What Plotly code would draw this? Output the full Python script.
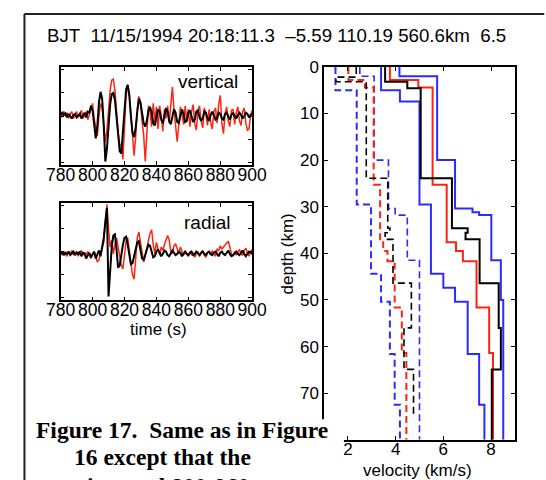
import plotly.graph_objects as go

# ---------------- data ----------------
time_s = list(range(780, 901))

vert_black = [0.05, 0.15, 0.05, 0.12, -0.05, 0.1, 0.0, -0.1, 0.05, 0.1,
              -0.05, 0.05, 0.1, -0.1, 0.0, 0.15, -0.05, 0.2, 0.15, 0.45,
              0.25, -0.5, -0.95, -0.4, 0.6, 1.05, 0.75, -0.4, -1.95, -1.4,
              -0.2, 0.5, 0.95, 1.0, 0.7, -0.1, -0.9, -1.5, -1.6, -0.7,
              0.4, 1.15, 1.35, 0.9, 0.0, -0.7, -0.9, -0.5, 0.2, 0.75,
              0.6, 0.1, -0.3, -0.45, -0.2, 0.25, 0.4, 0.15, -0.3, -0.4,
              -0.05, 0.3, 0.2, -0.15, -0.3, 0.05, 0.35, 0.2, -0.2, -0.35,
              0.0, 0.3, 0.15, -0.25, -0.3, 0.05, 0.3, 0.1, -0.25, -0.2,
              0.15, 0.25, 0.0, -0.25, -0.15, 0.2, 0.25, -0.05, -0.2, -0.1,
              0.2, 0.15, -0.1, -0.2, 0.05, 0.2, 0.05, -0.15, -0.1, 0.15,
              0.1, -0.1, -0.15, 0.1, 0.15, -0.05, -0.15, 0.05, 0.15, 0.0,
              -0.1, 0.05, 0.15, 0.05, -0.1, 0.0, 0.15, 0.1, -0.05, 0.05, 0.1]

vert_red = [0.1, -0.05, 0.2, 0.0, 0.15, -0.1, 0.1, 0.2, -0.1, 0.05,
            0.2, -0.05, 0.1, 0.25, -0.1, 0.05, 0.2, -0.15, 0.1, 0.3,
            0.55, -0.1, -0.55, -0.85, 0.0, 0.55, 0.35, -0.3, -1.1, -0.6,
            0.3, 1.1, 1.55, 1.6, 1.1, 0.1, -0.7, -1.2, -1.3, -1.85,
            -0.3, 0.9, 1.35, 1.0, 0.1, -1.0, -1.7, -0.9, 0.3, 0.85,
            0.55, -0.2, -0.8, -1.95, -0.7, 0.45, 0.2, -0.45, 0.55, -0.25,
            0.4, -0.55, 0.45, 0.05, -0.65, 0.3, -0.1, 0.45, -0.3, 0.5,
            1.25, 0.3, -0.55, -1.1, -0.35, 0.4, 0.1, -0.35, 0.45, -0.2,
            0.3, -0.45, 0.2, 0.5, -0.3, -0.6, 0.25, 0.45, -0.2, -0.5,
            0.35, 0.1, -0.4, 0.3, -0.25, -0.55, 0.2, 0.35, -0.3, 0.5,
            0.9, -0.3, -0.75, 0.1, 0.4, -0.2, -0.45, 0.25, 0.3, -0.35,
            0.15, 0.4, -0.2, -0.4, 0.2, 0.35, -0.3, -0.6, -0.55, 0.05, 0.25]

rad_black = [-0.1, 0.0, -0.15, -0.05, -0.1, 0.0, -0.15, -0.05, 0.0, -0.15,
             -0.05, -0.1, 0.0, -0.2, -0.05, -0.1, -0.3, -0.15, -0.05, -0.25,
             -0.1, 0.0, -0.3, -0.15, 0.05, -0.2, 0.2, 0.6, 1.3, 1.9,
             -1.95, -0.9, 0.2, 0.7, 0.75, 0.1, -0.7, -0.6, -0.1, 0.3,
             0.6, 0.65, 0.3, -0.2, -0.55, -0.5, -0.2, 0.15, 0.4, 0.45,
             0.1, -0.3, -0.35, -0.1, 0.1, 0.3, 0.25, -0.05, -0.25, -0.2,
             0.0, 0.1, -0.05, -0.2, -0.1, 0.05, 0.0, -0.15, -0.2, -0.05,
             0.05, -0.05, -0.15, -0.1, 0.0, -0.05, -0.2, -0.1, 0.0, -0.1,
             -0.15, -0.05, 0.0, -0.15, -0.1, 0.0, -0.1, -0.15, -0.05, 0.0,
             -0.1, -0.15, -0.05, 0.0, -0.1, -0.15, -0.05, 0.0, -0.1, -0.2,
             -0.05, 0.0, -0.1, -0.15, -0.05, 0.05, -0.1, -0.2, -0.15, -0.05,
             0.0, -0.1, -0.15, -0.05, 0.05, -0.1, -0.2, -0.1, 0.0, -0.05, -0.1]

rad_red = [-0.05, -0.15, 0.0, -0.1, -0.2, 0.0, -0.1, 0.05, -0.15, -0.05,
           0.0, -0.2, -0.05, 0.05, -0.15, -0.05, -0.1, 0.0, -0.15, -0.3,
           -0.1, 0.0, -0.2, -0.45, -0.35, -0.1, 0.1, 0.4, 1.3, 2.05,
           1.0, 0.2, 0.5, -0.1, 0.3, 0.6, 0.2, -0.3, -0.6, -0.75,
           -0.2, 0.45, 0.6, 0.1, -0.6, -1.0, -1.2, -0.4, 0.6, 0.85,
           0.4, -0.1, -0.45, -0.2, 0.2, 0.5, 0.8, 0.95, 0.3, -0.1,
           0.4, 0.15, -0.15, 0.2, 0.05, 0.3, 0.5, 0.7, 0.5, 0.0,
           -0.1, 0.25, 0.35, 0.1, -0.1, 0.2, 0.05, -0.15, 0.0, -0.1,
           -0.2, 0.0, -0.15, -0.05, -0.25, -0.1, 0.0, -0.2, -0.1, 0.05,
           -0.15, -0.25, -0.05, 0.0, -0.15, 0.05, -0.1, -0.2, 0.1, 0.05,
           0.25, 0.1, 0.2, 0.3, 0.4, 0.45, 0.2, -0.1, -0.2, 0.0,
           -0.15, -0.05, 0.1, -0.1, -0.15, 0.05, 0.15, -0.05, -0.2, 0.0, 0.1]

time_ticks = [780, 800, 820, 840, 860, 880, 900]

# velocity models: layer boundary depths (km) and layer velocities (km/s)
vp_black_depth = [0, 3.2, 4.6, 23.9, 34.6, 35.6, 37.0, 46.4, 56.0, 64.9, 80]
vp_black = [3.56, 4.49, 5.05, 6.36, 7.02, 6.93, 7.52, 8.32, 8.41, 8.03]

vp_red_depth = [0, 2.8, 4.4, 25.3, 37.6, 39.5, 41.7, 51.6, 61.4, 80]
vp_red = [3.76, 4.95, 5.55, 6.14, 6.53, 6.82, 7.39, 7.92, 8.08]

vp_blue_lo_depth = [0, 5.0, 7.4, 29.5, 44.4, 47.4, 50.4, 61.6, 72.5, 80]
vp_blue_lo = [3.39, 4.18, 5.0, 5.48, 6.0, 6.49, 7.02, 7.5, 7.72]

vp_blue_hi_depth = [0, 2.0, 20.0, 30.4, 31.2, 31.8, 41.5, 50.0, 80]
vp_blue_hi = [4.16, 5.74, 6.49, 7.22, 7.5, 8.01, 8.41, 8.51]

vs_black_depth = [0, 2.2, 3.2, 23.9, 34.6, 35.6, 37.0, 46.4, 56.0, 64.9, 75]
vs_black = [2.35, 1.5, 2.77, 3.67, 3.76, 3.56, 3.89, 4.66, 4.35, 4.75]

vs_red_depth = [0, 2.8, 4.4, 25.3, 37.6, 39.5, 41.7, 51.6, 61.4, 80]
vs_red = [2.02, 2.71, 3.08, 3.35, 3.48, 3.66, 3.96, 4.26, 4.45]

vs_blue_lo_depth = [0, 5.0, 29.5, 44.4, 50.4, 61.6, 72.5, 80]
vs_blue_lo = [1.48, 2.37, 2.97, 3.39, 3.76, 3.96, 4.18]

vs_blue_hi_depth = [0, 2.0, 20.0, 30.4, 31.8, 41.5, 80]
vs_blue_hi = [2.5, 3.1, 3.7, 3.98, 4.49, 5.0]

vel_ticks = [2, 4, 6, 8]
depth_ticks = [0, 10, 20, 30, 40, 50, 60, 70]

# ---------------- figure ----------------
W, H = 546, 480
BLUE = "#2b2bff"
RED = "#ff2410"
BLACK = "#000000"
DASH = "7px,4px"

fig = go.Figure()

# waveforms
fig.add_trace(go.Scatter(x=time_s, y=vert_red, mode="lines",
                         line=dict(color=RED, width=1.5), xaxis="x", yaxis="y"))
fig.add_trace(go.Scatter(x=time_s, y=vert_black, mode="lines",
                         line=dict(color=BLACK, width=2), xaxis="x", yaxis="y"))
fig.add_trace(go.Scatter(x=time_s, y=rad_red, mode="lines",
                         line=dict(color=RED, width=1.5), xaxis="x2", yaxis="y2"))
fig.add_trace(go.Scatter(x=time_s, y=rad_black, mode="lines",
                         line=dict(color=BLACK, width=2), xaxis="x2", yaxis="y2"))


def step(v, d, color, dash=None, width=2):
    fig.add_trace(go.Scatter(x=v + [v[-1]], y=d, mode="lines",
                             line=dict(color=color, width=width, shape="vh",
                                       dash=dash),
                             xaxis="x3", yaxis="y3"))


step(vs_blue_lo, vs_blue_lo_depth, BLUE, DASH)
step(vs_blue_hi, vs_blue_hi_depth, BLUE, DASH, 1.6)
step(vs_red, vs_red_depth, RED, DASH)
step(vs_black, vs_black_depth, BLACK, DASH, 1.6)
step(vp_blue_lo, vp_blue_lo_depth, BLUE)
step(vp_blue_hi, vp_blue_hi_depth, BLUE)
step(vp_red, vp_red_depth, RED)
step(vp_black, vp_black_depth, BLACK)

FONT = "Liberation Sans, Arial, sans-serif"
axis_common = dict(showline=True, linecolor="black", linewidth=1.5, mirror="ticks",
                   ticks="inside", ticklen=4, tickcolor="black", tickwidth=1,
                   showgrid=False, zeroline=False,
                   tickfont=dict(family=FONT, size=17, color="black"))


def px_x(p):
    return p / W


def px_y(p):
    return 1 - p / H


time_font = dict(family=FONT, size=17.5, color="black")

fig.update_layout(
    width=W, height=H, margin=dict(l=0, r=0, t=0, b=0),
    paper_bgcolor="white", plot_bgcolor="white", showlegend=False,
    xaxis=dict(axis_common, domain=[px_x(48.3), px_x(251)], range=[780, 900],
               tickvals=time_ticks, anchor="y", tickfont=time_font,
               tickangle=0, ticklabelstandoff=-7),
    yaxis=dict(axis_common, domain=[px_y(159), px_y(59.5)], range=[-2.1, 2.1],
               tickvals=[-2, -1, 0, 1, 2], showticklabels=False, anchor="x"),
    xaxis2=dict(axis_common, domain=[px_x(48.3), px_x(251)], range=[780, 900],
                tickvals=time_ticks, anchor="y2", tickfont=time_font,
                tickangle=0, ticklabelstandoff=-7),
    yaxis2=dict(axis_common, domain=[px_y(297), px_y(197.5)], range=[-2.12, 2.12],
                tickvals=[-2, -1, 0, 1, 2], showticklabels=False, anchor="x2"),
    xaxis3=dict(axis_common, domain=[px_x(327), px_x(529)], range=[1, 9],
                tickvals=vel_ticks, anchor="y3", tickangle=0, ticklabelstandoff=-7),
    yaxis3=dict(axis_common, domain=[px_y(439), px_y(59)], range=[80, 0],
                tickvals=depth_ticks, anchor="x3"),
)

shapes = [
    # caption cover box
    dict(type="rect", xref="paper", yref="paper", x0=px_x(14), x1=px_x(348),
         y0=px_y(520), y1=px_y(418), fillcolor="white", line=dict(width=0),
         layer="above"),
    # outer frame
    dict(type="line", xref="paper", yref="paper", x0=px_x(10), x1=px_x(10),
         y0=px_y(520), y1=px_y(5), line=dict(color="#222", width=2), layer="above"),
    dict(type="line", xref="paper", yref="paper", x0=px_x(10), x1=px_x(560),
         y0=px_y(5), y1=px_y(5), line=dict(color="#222", width=2), layer="above"),
]
fig.update_layout(shapes=shapes)

ann = []
NB = "\u00a0"
ann.append(dict(text=f"BJT{NB}{NB}11/15/1994 20:18:11.3{NB}{NB}\u20135.59 110.19 560.6km{NB}{NB}6.5",
                x=px_x(277), y=px_y(27.5), xanchor="center", yanchor="middle",
                font=dict(family=FONT, size=18.7, color="black")))
ann.append(dict(text="vertical", x=px_x(238), y=px_y(74), xanchor="right",
                yanchor="middle", font=dict(family=FONT, size=19, color="black")))
ann.append(dict(text="radial", x=px_x(230), y=px_y(218), xanchor="right",
                yanchor="middle", font=dict(family=FONT, size=19, color="black")))
ann.append(dict(text="time (s)", x=px_x(152), y=px_y(327), xanchor="center",
                yanchor="middle", font=dict(family=FONT, size=17, color="black")))
ann.append(dict(text="velocity (km/s)", x=px_x(426), y=px_y(470), xanchor="center",
                yanchor="middle", font=dict(family=FONT, size=17, color="black")))
ann.append(dict(text="depth (km)", x=px_x(288), y=px_y(250), xanchor="center",
                yanchor="middle", textangle=-90,
                font=dict(family=FONT, size=17, color="black")))
SERIF = "Liberation Serif, Times New Roman, serif"
ann.append(dict(text=f"<b>Figure 17.{NB} Same as in Figure</b>",
                x=px_x(177), y=px_y(429), xanchor="center", yanchor="middle",
                font=dict(family=SERIF, size=23.5, color="black")))
ann.append(dict(text="<b>16 except that the</b>", x=px_x(156), y=px_y(457),
                xanchor="center", yanchor="middle",
                font=dict(family=SERIF, size=23.5, color="black")))
ann.append(dict(text="<b>interval 800-960 s</b>", x=px_x(170), y=px_y(486),
                xanchor="center", yanchor="middle",
                font=dict(family=SERIF, size=23.5, color="black")))
for a in ann:
    a.update(xref="paper", yref="paper", showarrow=False)
fig.update_layout(annotations=ann)

fig.write_html("out.html")
